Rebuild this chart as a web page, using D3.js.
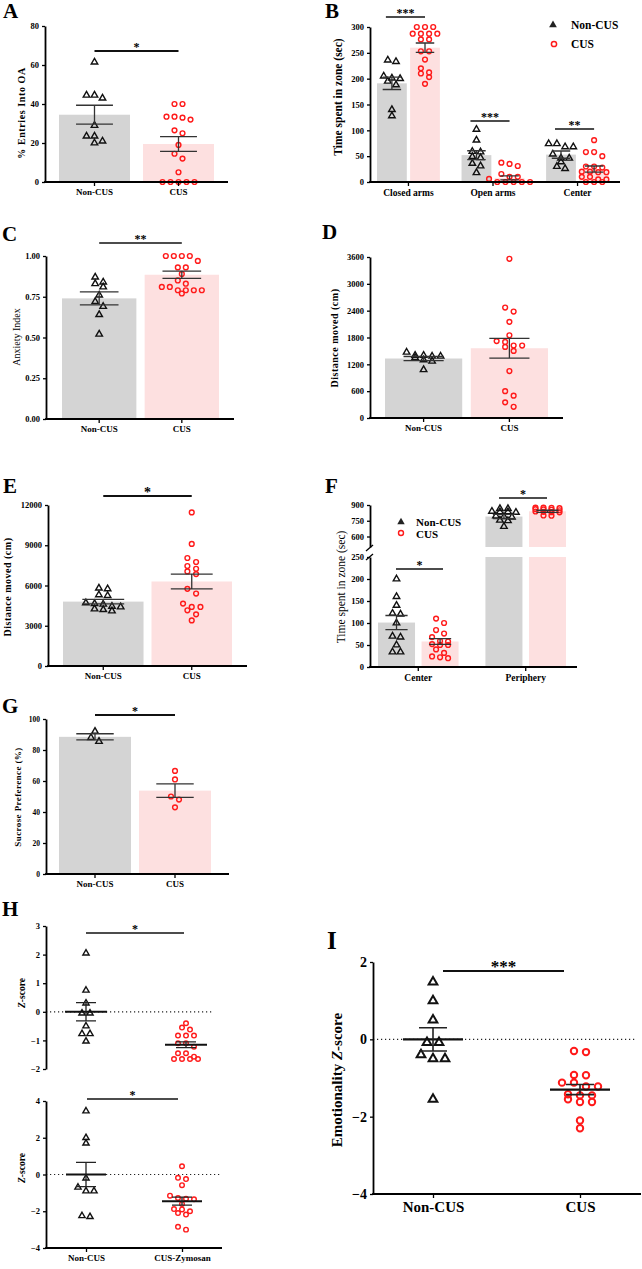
<!DOCTYPE html>
<html>
<head>
<meta charset="utf-8">
<script src="https://cdn.jsdelivr.net/npm/d3@7"></script>
<style>
body { margin: 0; background: #fff; }
svg { display: block; font-family: "Liberation Serif", "Times New Roman", serif; }
</style>
</head>
<body>
<svg id="fig" width="642" height="1269"></svg>
<script>
// ---- data ----
var groups = ['Non-CUS', 'CUS'];
var hGroups = ['Non-CUS', 'CUS-Zymosan'];

// A  % entries into OA
var aTicks = [0, 20, 40, 60, 80];
var aMean = [34.5, 19.5];
var aSem = [4.85, 3.8];
var aNon = [61.5, 44.5, 43, 44.5, 29, 23.5, 23.5, 20, 21];
var aCus = [40, 40, 33.5, 33.5, 33, 32, 26.5, 25, 19, 14.5, 12, 5, 0, 0, 0, 0, 0];

// B  time in zone (EPM)
var bZones = ['Closed arms', 'Open arms', 'Center'];
var bTicks = [0, 50, 100, 150, 200, 250, 300];
var bMean = [[191, 260], [52, 8], [53, 25]];
var bSem = [[12, 9], [8.5, 4], [7, 6]];
var bClosedNon = [236, 233, 205, 201, 200, 195, 188, 140, 128];
var bClosedCus = [300, 300, 300, 287, 287, 287, 287, 276, 276, 253, 253, 237, 220, 212, 210, 203, 190];
var bOpenNon = [102, 81, 59, 58, 49, 47, 36, 31, 18];
var bOpenCus = [37.5, 35, 31, 15.5, 10, 10, 6, 0, 0, 0, 0, 0];
var bCenterNon = [74, 74, 68, 68, 54, 46, 46, 39, 30, 26];
var bCenterCus = [81, 58, 58, 50, 30, 30, 28, 20, 20, 19, 19, 10, 10, 5, 5, 0, 0, 0];

// C  anxiety index
var cTicks = [0, 0.25, 0.5, 0.75, 1];
var cMean = [0.74, 0.885];
var cSem = [0.04, 0.022];
var cNon = [0.87, 0.84, 0.83, 0.81, 0.76, 0.72, 0.69, 0.64, 0.52];
var cCus = [1, 1, 1, 1, 0.97, 0.93, 0.93, 0.89, 0.85, 0.83, 0.81, 0.81, 0.79, 0.79, 0.79, 0.79, 0.77];

// D  distance moved (EPM)
var dTicks = [0, 600, 1200, 1800, 2400, 3000, 3600];
var dMean = [1330, 1560];
var dSem = [45, 220];
var dNon = [1470, 1400, 1380, 1400, 1350, 1380, 1300, 1270, 1080];
var dCus = [3560, 2470, 2380, 2150, 1850, 1720, 1700, 1620, 1620, 1590, 1500, 1050, 600, 500, 350, 250];

// E  distance moved (OFT)
var eTicks = [0, 3000, 6000, 9000, 12000];
var eMean = [4800, 6300];
var eSem = [170, 550];
var eNon = [5800, 5750, 5300, 5250, 4700, 4650, 4600, 4450, 4400, 4250, 4200, 4100];
var eCus = [11450, 9100, 8050, 7750, 7450, 7250, 7050, 6850, 5750, 5400, 4650, 4400, 4400, 4150, 3850, 3400];

// F  time in zone (OFT), broken axis
var fZones = ['Center', 'Periphery'];
var fTicksLo = [0, 50, 100, 150, 200, 250];
var fTicksHi = [600, 750, 900];
var fMean = [[101, 58], [790, 840]];
var fSem = [[16, 6.5], [20, 10]];
var fCenterNon = [200, 160, 140, 122, 120, 100, 70, 68, 50, 34, 34];
var fCenterCus = [110, 100, 84, 76, 68, 59, 58, 52, 50, 50, 40, 32, 24, 22, 20];
var fPeriNon = [865, 865, 840, 835, 835, 830, 795, 790, 785, 755, 750, 695];
var fPeriCus = [875, 875, 872, 870, 860, 858, 855, 850, 838, 835, 832, 830, 800, 798];

// G  sucrose preference
var gTicks = [0, 20, 40, 60, 80, 100];
var gMean = [88.5, 53.8];
var gSem = [2, 4.4];
var gNon = [92, 88, 85.5];
var gCus = [66.5, 61, 50, 48, 43];

// H  z-scores
var hTopTicks = [-2, -1, 0, 1, 2, 3];
var hTopMean = [0, -1.15];
var hTopSem = [0.32, 0.1];
var hTopNon = [2.05, 0.75, 0.3, -0.05, -0.05, -0.5, -0.77, -0.77, -1.03];
var hTopCus = [-0.4, -0.55, -0.62, -0.83, -0.83, -0.83, -1.1, -1.1, -1.22, -1.45, -1.45, -1.57, -1.65, -1.65, -1.65, -1.65];
var hBotTicks = [-4, -2, 0, 2, 4];
var hBotMean = [0, -1.45];
var hBotSem = [0.66, 0.22];
var hBotNon = [3.45, 2.0, 1.7, -0.2, -0.7, -0.9, -0.9, -2.3, -2.25];
var hBotCus = [0.45, -0.18, -0.25, -0.58, -1.15, -1.28, -1.32, -1.35, -1.6, -1.88, -1.9, -2.0, -2.1, -2.18, -2.85, -3.0];

// I  emotionality z-score
var iTicks = [-4, -2, 0, 2];
var iMean = [0, -1.3];
var iSem = [0.3, 0.13];
var iNon = [1.48, 1.0, 0.5, -0.08, -0.08, -0.4, -0.5, -0.5, -1.55];
var iCus = [-0.3, -0.33, -0.92, -0.93, -1.12, -1.12, -1.22, -1.22, -1.42, -1.45, -1.45, -1.55, -1.62, -1.62, -2.1, -2.3];

// ---- drawing helpers ----
var svg = d3.select('#fig');
var FILL = ['#d4d4d4', '#fde0e0'];
var KIND = ['tri', 'circ'];
var RED = '#ff1a1a';

svg.append('rect').attr('width', 642).attr('height', 1269).attr('fill', '#fff');

function letter(t, x, y, fs) {
	svg.append('text').attr('x', x).attr('y', y)
		.attr('font-size', fs || 21).attr('font-weight', 'bold').text(t);
}

function yAxis(g, y, ticks, x, fs, fmt) {
	var ax = g.append('g').attr('transform', 'translate(' + x + ',0)')
		.call(d3.axisLeft(y).tickValues(ticks).tickSize(3).tickPadding(3).tickSizeOuter(0)
			.tickFormat(fmt || d3.format('d')));
	ax.attr('font-family', null).attr('font-size', fs).attr('font-weight', 'bold');
	ax.select('.domain').attr('stroke-width', 1.8);
	ax.selectAll('.tick line').attr('stroke-width', 1.3);
	return ax;
}

function xAxis(g, x, x0, x1, yb, fs, line) {
	if (line !== false)
		g.append('line').attr('x1', x0 - 0.9).attr('x2', x1).attr('y1', yb).attr('y2', yb)
			.attr('stroke', '#000').attr('stroke-width', 1.8);
	var ax = g.append('g').attr('transform', 'translate(0,' + yb + ')')
		.call(d3.axisBottom(x).tickSize(4).tickPadding(3).tickSizeOuter(0));
	ax.select('.domain').remove();
	ax.attr('font-family', null).attr('font-size', fs).attr('font-weight', 'bold');
	ax.selectAll('.tick line').attr('stroke-width', 1.3);
	return ax;
}

function yTitle(g, txt, x, y, fs, w, ls) {
	return g.append('text').attr('transform', 'translate(' + x + ',' + y + ') rotate(-90)')
		.attr('text-anchor', 'middle').attr('dominant-baseline', 'central')
		.attr('font-size', fs).attr('font-weight', w || 'bold')
		.attr('letter-spacing', ls || 0).text(txt);
}

// spread points of similar value horizontally, rows centred on the group
function swarm(vals, y, sp, th) {
	var pts = vals.map(function(v) { return { v: v, y: y(v) }; })
		.sort(function(a, b) { return a.y - b.y; });
	var rows = [], cur = null;
	pts.forEach(function(p) {
		if (cur && p.y - cur[0].y < th) cur.push(p);
		else { cur = [p]; rows.push(cur); }
	});
	rows.forEach(function(r) {
		r.forEach(function(p, i) { p.dx = (i - (r.length - 1) / 2) * sp; });
	});
	return pts;
}

function dots(g, pts, cx, kind, r, sw) {
	if (kind === 'tri') {
		g.selectAll(null).data(pts).enter().append('path')
			.attr('d', d3.symbol(d3.symbolTriangle, r * r * 3.2))
			.attr('transform', function(d) { return 'translate(' + (cx + d.dx) + ',' + d.y + ')'; })
			.attr('fill', 'none').attr('stroke', '#111').attr('stroke-width', sw || 1.4);
	} else {
		g.selectAll(null).data(pts).enter().append('circle')
			.attr('cx', function(d) { return cx + d.dx; })
			.attr('cy', function(d) { return d.y; })
			.attr('r', r).attr('fill', 'none').attr('stroke', RED).attr('stroke-width', sw || 1.4);
	}
}

function errBar(g, cx, y, m, s, w, col, sw) {
	var p = d3.path();
	p.moveTo(cx, y(m - s)); p.lineTo(cx, y(m + s));
	p.moveTo(cx - w / 2, y(m + s)); p.lineTo(cx + w / 2, y(m + s));
	p.moveTo(cx - w / 2, y(m - s)); p.lineTo(cx + w / 2, y(m - s));
	g.append('path').attr('d', p.toString()).attr('fill', 'none')
		.attr('stroke', col || '#333').attr('stroke-width', sw || 1.3);
}

function sig(g, x1, x2, yy, txt, fs, sw) {
	g.append('line').attr('x1', x1).attr('x2', x2).attr('y1', yy).attr('y2', yy)
		.attr('stroke', '#111').attr('stroke-width', sw || 1.6);
	g.append('text').attr('x', (x1 + x2) / 2).attr('y', yy - 1 + fs * 0.12)
		.attr('text-anchor', 'middle').attr('font-size', fs).attr('font-weight', 'bold').text(txt);
}

function zeroLine(g, y, x0, x1) {
	g.append('line').attr('x1', x0).attr('x2', x1).attr('y1', y(0)).attr('y2', y(0))
		.attr('stroke', '#222').attr('stroke-width', 1.2).attr('stroke-dasharray', '1.2,2.8');
}

// simple two-bar panel with points
function barPanel(o) {
	var g = svg.append('g');
	var y = d3.scaleLinear().domain(o.domain).range([o.bot, o.top]);
	var x = d3.scaleBand().domain(groups).range(o.bars).paddingInner(o.pad);
	var bw = x.bandwidth();
	g.selectAll(null).data(o.mean).enter().append('rect')
		.attr('x', function(d, i) { return x(groups[i]); }).attr('width', bw)
		.attr('y', function(d) { return y(d); })
		.attr('height', function(d) { return o.bot - y(d); })
		.attr('fill', function(d, i) { return FILL[i]; });
	o.pts.forEach(function(vals, i) {
		dots(g, swarm(vals, y, o.sp, o.th), x(groups[i]) + bw / 2, KIND[i], o.r);
	});
	o.mean.forEach(function(m, i) { errBar(g, x(groups[i]) + bw / 2, y, m, o.sem[i], bw * 0.52); });
	yAxis(g, y, o.ticks, o.ax, o.tfs, o.fmt);
	xAxis(g, x, o.ax, o.xEnd, o.bot, o.cfs);
	yTitle(g, o.title, o.tx, o.ty, o.tsz, o.tw, o.tls);
	if (o.sig) sig(g, x(groups[0]) + bw / 2, x(groups[1]) + bw / 2, o.sig[0], o.sig[1], o.sig[2], o.sig[3]);
	return g;
}

// dot plot with mean line and SEM
function dotPanel(o) {
	var g = svg.append('g');
	var y = d3.scaleLinear().domain(o.domain).range([o.bot, o.top]);
	var x = d3.scalePoint().domain(o.groups).range(o.centers);
	zeroLine(g, y, o.ax, o.zEnd);
	o.pts.forEach(function(vals, i) {
		dots(g, swarm(vals, y, o.sp, o.th), x(o.groups[i]), KIND[i], o.r, o.sw);
	});
	o.mean.forEach(function(m, i) {
		var cx = x(o.groups[i]);
		g.append('line').attr('x1', cx - o.mw / 2).attr('x2', cx + o.mw / 2)
			.attr('y1', y(m)).attr('y2', y(m)).attr('stroke', '#111').attr('stroke-width', o.msw);
		errBar(g, cx, y, m, o.sem[i], o.ew, '#222', o.esw);
	});
	yAxis(g, y, o.ticks, o.ax, o.tfs);
	if (o.xEnd) xAxis(g, x, o.ax, o.xEnd, o.bot, o.cfs);
	var t = g.append('text').attr('transform', 'translate(' + o.tx + ',' + o.ty + ') rotate(-90)')
		.attr('text-anchor', 'middle').attr('dominant-baseline', 'central')
		.attr('font-size', o.tsz).attr('font-weight', 'bold');
	if (o.tpre) t.append('tspan').text(o.tpre);
	t.append('tspan').attr('font-style', 'italic').text('Z');
	t.append('tspan').text('-score');
	if (o.sig) sig(g, o.sig[0], o.sig[1], o.sig[2], o.sig[3], o.sig[4], o.sig[5]);
	return g;
}

// ---- A ----
letter('A', 3, 18);
barPanel({ domain: [0, 80], ticks: aTicks, top: 26, bot: 182, ax: 45, xEnd: 228,
	bars: [59, 214], pad: 0.155, mean: aMean, sem: aSem, pts: [aNon, aCus],
	r: 2.4, sp: 8, th: 5, tfs: 8.5, cfs: 9,
	title: '% Entries Into OA', tx: 21, ty: 113, tsz: 10, tw: 'bold', tls: 0.6,
	sig: [51, '*', 12, 2] });

// ---- B ----
letter('B', 325, 18);
(function() {
	var g = svg.append('g');
	var top = 27, bot = 182, ax = 370;
	var y = d3.scaleLinear().domain([0, 300]).range([bot, top]);
	var xz = d3.scaleBand().domain(bZones).range([377, 609]).paddingInner(0.256);
	var xg = d3.scaleBand().domain(groups).range([0, xz.bandwidth()]).paddingInner(0.1);
	var pts = [[bClosedNon, bClosedCus], [bOpenNon, bOpenCus], [bCenterNon, bCenterCus]];
	var bw = xg.bandwidth();
	bZones.forEach(function(z, k) {
		groups.forEach(function(gr, i) {
			var x0 = xz(z) + xg(gr), m = bMean[k][i];
			g.append('rect').attr('x', x0).attr('width', bw).attr('y', y(m))
				.attr('height', bot - y(m)).attr('fill', FILL[i]);
		});
	});
	bZones.forEach(function(z, k) {
		groups.forEach(function(gr, i) {
			var cx = xz(z) + xg(gr) + bw / 2;
			dots(g, swarm(pts[k][i], y, 8.2, 4.5), cx, KIND[i], 2.4);
			errBar(g, cx, y, bMean[k][i], bSem[k][i], bw * 0.62);
		});
	});
	yAxis(g, y, bTicks, ax, 8.5);
	xAxis(g, xz, ax, 620, bot, 9.5);
	yTitle(g, 'Time spent in zone (sec)', 338, 97, 11.5, 'bold');
	var stars = ['***', '***', '**'], sy = [17, 121, 129];
	bZones.forEach(function(z, k) {
		sig(g, xz(z) + xg(groups[0]) + bw / 2 - 6, xz(z) + xg(groups[1]) + bw / 2, sy[k], stars[k], 12, 1.5);
	});
	// legend
	g.append('path').attr('d', d3.symbol(d3.symbolTriangle, 26))
		.attr('transform', 'translate(553,25)').attr('fill', '#222');
	g.append('circle').attr('cx', 554).attr('cy', 44).attr('r', 2.6)
		.attr('fill', 'none').attr('stroke', RED).attr('stroke-width', 1.5);
	g.append('text').attr('x', 571).attr('y', 29).attr('font-size', 11.5).attr('font-weight', 'bold').text('Non-CUS');
	g.append('text').attr('x', 571).attr('y', 48).attr('font-size', 11.5).attr('font-weight', 'bold').text('CUS');
})();

// ---- C ----
letter('C', 2, 241);
barPanel({ domain: [0, 1], ticks: cTicks, fmt: d3.format('.2f'), top: 256, bot: 419, ax: 46, xEnd: 234,
	bars: [62, 219], pad: 0.1, mean: cMean, sem: cSem, pts: [cNon, cCus],
	r: 2.4, sp: 8, th: 5, tfs: 8.5, cfs: 9,
	title: 'Anxiety Index', tx: 16, ty: 337, tsz: 10, tw: 'normal',
	sig: [243, '**', 12, 1.5] });

// ---- D ----
letter('D', 322, 239);
barPanel({ domain: [0, 3600], ticks: dTicks, top: 257, bot: 418, ax: 370, xEnd: 563,
	bars: [385, 548], pad: 0.1, mean: dMean, sem: dSem, pts: [dNon, dCus],
	r: 2.4, sp: 8.5, th: 5, tfs: 8.5, cfs: 9,
	title: 'Distance moved (cm)', tx: 334, ty: 338, tsz: 10, tw: 'bold', tls: 0.5 });

// ---- E ----
letter('E', 3, 493);
barPanel({ domain: [0, 12000], ticks: eTicks, top: 505, bot: 666, ax: 48, xEnd: 247,
	bars: [63, 232], pad: 0.09, mean: eMean, sem: eSem, pts: [eNon, eCus],
	r: 2.4, sp: 8.7, th: 5, tfs: 8.5, cfs: 9,
	title: 'Distance moved (cm)', tx: 7, ty: 587, tsz: 10, tw: 'bold', tls: 0.5,
	sig: [496, '*', 14, 2] });

// ---- F ----
letter('F', 325, 493);
(function() {
	var g = svg.append('g');
	var ax = 370, bot = 667;
	var yLo = d3.scaleLinear().domain([0, 250]).range([bot, 557]);
	var yHi = d3.scaleLinear().domain([500, 900]).range([547, 505]);
	var xz = d3.scaleBand().domain(fZones).range([378, 566]).paddingInner(0.25);
	var xg = d3.scaleBand().domain(groups).range([0, xz.bandwidth()]).paddingInner(0.15);
	var bw = xg.bandwidth();
	var pts = [[fCenterNon, fCenterCus], [fPeriNon, fPeriCus]];
	var rowTh = [4.5, 1.5];
	fZones.forEach(function(z, k) {
		groups.forEach(function(gr, i) {
			var x0 = xz(z) + xg(gr), m = fMean[k][i];
			if (m <= 250) {
				g.append('rect').attr('x', x0).attr('width', bw).attr('y', yLo(m))
					.attr('height', bot - yLo(m)).attr('fill', FILL[i]);
			} else {
				g.append('rect').attr('x', x0).attr('width', bw).attr('y', yLo(250))
					.attr('height', bot - yLo(250)).attr('fill', FILL[i]);
				g.append('rect').attr('x', x0).attr('width', bw).attr('y', yHi(m))
					.attr('height', yHi(500) - yHi(m)).attr('fill', FILL[i]);
			}
		});
	});
	fZones.forEach(function(z, k) {
		var y = k === 0 ? yLo : yHi;
		groups.forEach(function(gr, i) {
			var cx = xz(z) + xg(gr) + bw / 2;
			dots(g, swarm(pts[k][i], y, 8, rowTh[k]), cx, KIND[i], 2.4);
			errBar(g, cx, y, fMean[k][i], fSem[k][i], bw * 0.6);
		});
	});
	yAxis(g, yLo, fTicksLo, ax, 8.5);
	yAxis(g, yHi, fTicksHi, ax, 8.5);
	// axis break marks
	[[366, 551, 373, 545], [366, 560, 373, 554]].forEach(function(s) {
		g.append('line').attr('x1', s[0]).attr('y1', s[1]).attr('x2', s[2]).attr('y2', s[3])
			.attr('stroke', '#000').attr('stroke-width', 1.3);
	});
	xAxis(g, xz, ax, 577, bot, 9.5);
	yTitle(g, 'Time spent in zone (sec)', 341, 587, 11.5, 'normal');
	sig(g, 396, 443, 569, '*', 12, 1.5);
	sig(g, 499, 547, 498, '*', 12, 1.5);
	// legend
	g.append('path').attr('d', d3.symbol(d3.symbolTriangle, 24))
		.attr('transform', 'translate(401,522)').attr('fill', '#222');
	g.append('circle').attr('cx', 401).attr('cy', 533).attr('r', 2.5)
		.attr('fill', 'none').attr('stroke', RED).attr('stroke-width', 1.4);
	g.append('text').attr('x', 416).attr('y', 526).attr('font-size', 11).attr('font-weight', 'bold').text('Non-CUS');
	g.append('text').attr('x', 416).attr('y', 537.5).attr('font-size', 11).attr('font-weight', 'bold').text('CUS');
})();

// ---- G ----
letter('G', 2, 713);
barPanel({ domain: [0, 100], ticks: gTicks, top: 719, bot: 874, ax: 46, xEnd: 229,
	bars: [59, 211], pad: 0.1, mean: gMean, sem: gSem, pts: [gNon, gCus],
	r: 2.4, sp: 8, th: 5, tfs: 7.5, cfs: 9,
	title: 'Sucrose Preference (%)', tx: 18, ty: 797, tsz: 9, tw: 'bold', tls: 0.4,
	sig: [715, '*', 12, 1.8] });

// ---- H ----
letter('H', 2, 916);
dotPanel({ domain: [-2, 3], ticks: hTopTicks, top: 926, bot: 1069, ax: 46, zEnd: 212,
	groups: hGroups, centers: [86, 186], mean: hTopMean, sem: hTopSem, pts: [hTopNon, hTopCus],
	r: 2.3, sp: 8, th: 4, sw: 1.4, mw: 42, msw: 2, ew: 20, esw: 1.3, tfs: 8.5,
	tx: 22, ty: 993, tsz: 9.5, sig: [86, 184, 933, '*', 12, 1.5] });
dotPanel({ domain: [-4, 4], ticks: hBotTicks, top: 1101, bot: 1248, ax: 46, zEnd: 222, xEnd: 222,
	groups: hGroups, centers: [86, 182], mean: hBotMean, sem: hBotSem, pts: [hBotNon, hBotCus],
	r: 2.3, sp: 8, th: 4, sw: 1.4, mw: 40, msw: 2, ew: 20, esw: 1.3, tfs: 8.5, cfs: 9,
	tx: 22, ty: 1168, tsz: 9.5, sig: [87, 178, 1099, '*', 12, 1.5] });

// ---- I ----
letter('I', 327, 949, 25);
dotPanel({ domain: [-4, 2], ticks: iTicks, top: 962, bot: 1194, ax: 373, zEnd: 636, xEnd: 641,
	groups: groups, centers: [433, 580], mean: iMean, sem: iSem, pts: [iNon, iCus],
	r: 3.2, sp: 12, th: 5, sw: 2, mw: 60, msw: 2.4, ew: 28, esw: 1.6, tfs: 14, cfs: 15,
	tx: 337, ty: 1080, tsz: 15, tpre: 'Emotionality ', sig: [443, 564, 971, '***', 17, 2] });
</script>
</body>
</html>
